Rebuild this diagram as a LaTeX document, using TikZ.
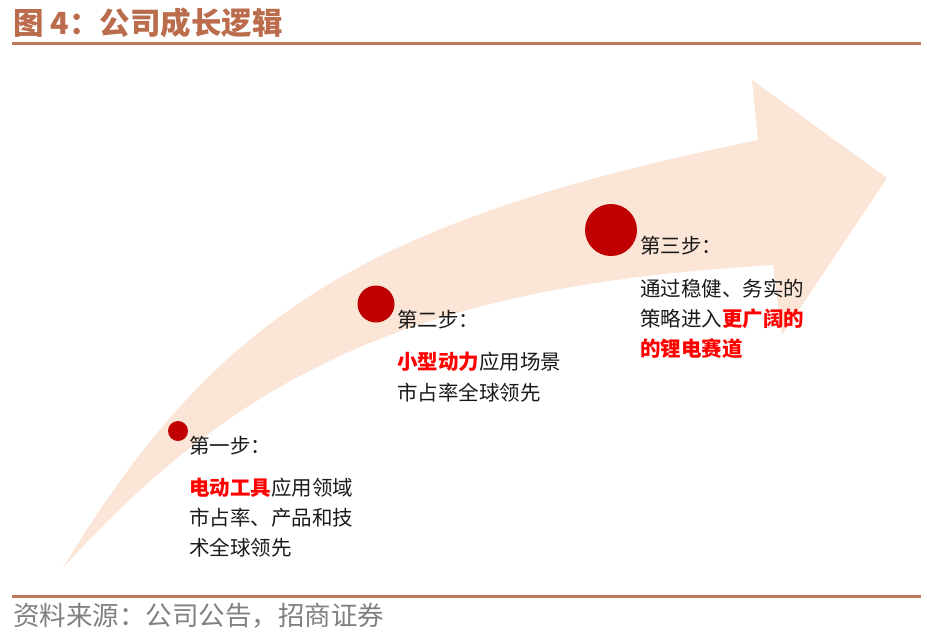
\documentclass[tikz,border=0pt]{standalone}
\usepackage{fontspec}
\newfontfamily\cjk{Noto Sans CJK SC}
\definecolor{titlebrown}{RGB}{186,108,76}
\definecolor{rulebrown}{RGB}{192,120,90}
\definecolor{arrowpink}{RGB}{251,229,214}
\definecolor{dotred}{RGB}{192,0,0}
\definecolor{hired}{RGB}{255,0,0}
\definecolor{bodyblack}{RGB}{26,26,26}
\definecolor{footgray}{RGB}{128,128,128}
\tikzset{
  dot/.style={circle,fill=dotred,inner sep=0pt},
  txt/.style={anchor=west,inner sep=0pt,text=bodyblack,font=\cjk\fontsize{20.5}{24}\selectfont}
}
\newcommand{\hlt}[1]{{\color{hired}\bfseries #1}}
\begin{document}
\begin{tikzpicture}[x=1pt,y=-1pt]
\useasboundingbox (0,0) rectangle (927,633);
% title
\node[anchor=west,inner sep=0pt,text=titlebrown,font=\cjk\bfseries\fontsize{30.5}{33}\selectfont] (title) at (13,23) {图 4：公司成长逻辑};
\draw[rulebrown,line width=3pt] (12,43) -- (921,43);
% arrow
\fill[arrowpink] (63,568) .. controls (218,311) and (370,220) .. (758,140)
  -- (752,80) -- (887,178) -- (782,335) -- (773,265)
  .. controls (433,285) and (248,363) .. (63,568) -- cycle;
% dots
\node[dot,minimum size=20pt] (d1) at (178,431) {};
\node[dot,minimum size=37pt] (d2) at (376,304) {};
\node[dot,minimum size=52pt] (d3) at (611,230) {};
% step 1
\node[txt] (s1h) at (189,446) {第一步：};
\node[txt] (s1a) at (189,488) {\hlt{电动工具}应用领域};
\node[txt] (s1b) at (189,518) {市占率、产品和技};
\node[txt] (s1c) at (189,548) {术全球领先};
% step 2
\node[txt] (s2h) at (397,320) {第二步：};
\node[txt] (s2a) at (397,362) {\hlt{小型动力}应用场景};
\node[txt] (s2b) at (397,393) {市占率全球领先};
% step 3
\node[txt] (s3h) at (640,246) {第三步：};
\node[txt] (s3a) at (640,289) {通过稳健、务实的};
\node[txt] (s3b) at (640,319) {策略进入\hlt{更广阔的}};
\node[txt] (s3c) at (640,349) {\hlt{的锂电赛道}};
% footer
\draw[rulebrown,line width=3pt] (12,596) -- (921,596);
\node[anchor=west,inner sep=0pt,text=footgray,font=\cjk\fontsize{26.5}{29}\selectfont] (foot) at (13,616) {资料来源：公司公告，招商证券};
\end{tikzpicture}
\end{document}
